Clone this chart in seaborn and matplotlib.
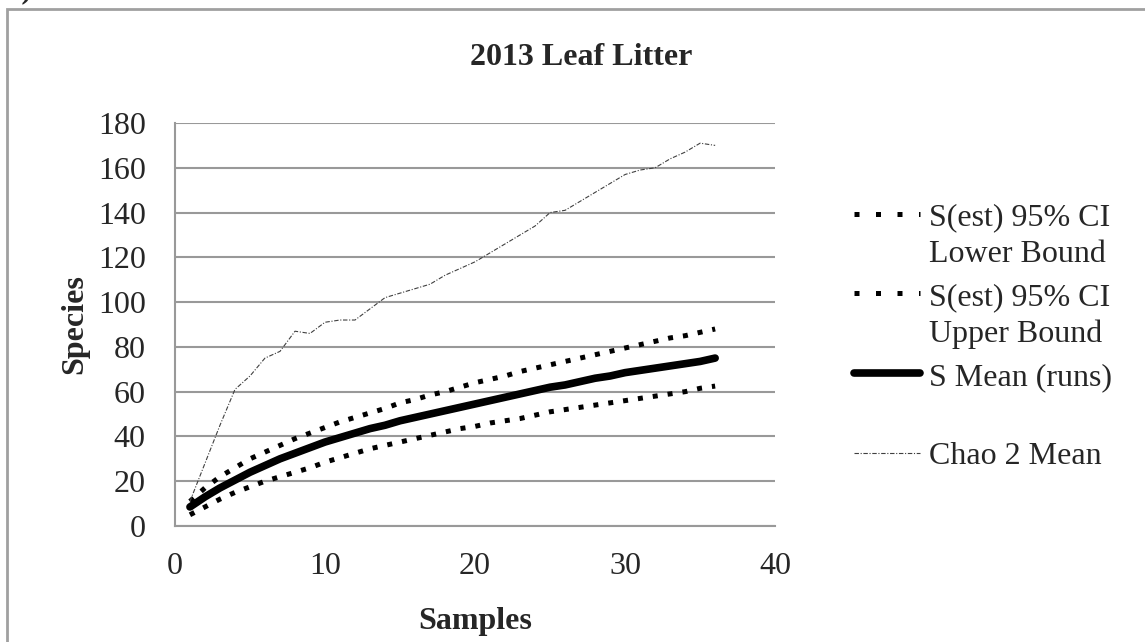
import matplotlib
matplotlib.use("Agg")
import matplotlib.pyplot as plt
import numpy as np
import pandas as pd
import seaborn as sns
from matplotlib.patches import Rectangle
from matplotlib.lines import Line2D
from matplotlib.legend_handler import HandlerLine2D
from matplotlib.transforms import Affine2D

# values
samples = list(range(1, 37))
ci_lower = [5, 8.5, 12, 15, 17.5, 20, 22, 24, 26, 28.5, 30.5, 32.5, 34.5, 36, 37.5, 39, 40.5, 42,
            43.5, 44.5, 46, 47, 48, 49.5, 51, 52, 53, 54, 55, 56, 57, 58, 59, 60, 61.5, 62.5]
ci_upper = [11, 17, 22, 26, 30, 33, 36, 39, 41.5, 44, 46.5, 48.5, 50.5, 52.5, 55, 56.5, 58.5, 60,
            62, 64, 65.5, 67, 69, 70.5, 72, 73.5, 75, 76.5, 78, 79.5, 81, 82.5, 84, 85, 86.5, 88]
s_mean = [8.5, 13, 17, 20.5, 24, 27, 30, 32.5, 35, 37.5, 39.5, 41.5, 43.5, 45, 47, 48.5, 50, 51.5,
          53, 54.5, 56, 57.5, 59, 60.5, 62, 63, 64.5, 66, 67, 68.5, 69.5, 70.5, 71.5, 72.5, 73.5, 75]
chao2 = [11, 28, 45, 61, 67, 75, 78, 87, 86, 91, 92, 92, 97, 102, 104, 106, 108, 112,
         115, 118, 122, 126, 130, 134, 140, 141, 145, 149, 153, 157, 159, 160, 164, 167, 171, 170]

df = pd.DataFrame({"Samples": samples, "lower": ci_lower, "upper": ci_upper,
                   "mean": s_mean, "chao": chao2})


# legend handles sit on the first line of each (two-line) label, like Excel does,
# and the dotted ones get the wider dot spacing of the source legend
class FirstLineHandler(HandlerLine2D):
    def create_artists(self, legend, orig_handle, xdescent, ydescent, width, height,
                       fontsize, trans):
        trans = Affine2D().translate(0, 0.7 * fontsize) + trans
        artists = super().create_artists(legend, orig_handle, xdescent, ydescent, width,
                                         height, fontsize, trans)
        if orig_handle.get_linestyle() not in ("-", "solid") and orig_handle.get_linewidth() > 2:
            for a in artists:
                a.set_linestyle((0, (1, 3.3)))
        return artists


sns.set_theme(style="white")
plt.rcParams['font.family'] = ['Liberation Serif', 'DejaVu Serif']

fig = plt.figure(figsize=(11.45, 6.42), dpi=100)
ax = fig.add_axes([0.1528, 0.1807, 0.677 - 0.1528, 0.8084 - 0.1807])

sns.lineplot(data=df, x="Samples", y="lower", ax=ax, color="black", lw=3.6,
             linestyle=(0, (1, 2)), dash_capstyle="butt", label="S(est) 95% CI\nLower Bound")
sns.lineplot(data=df, x="Samples", y="upper", ax=ax, color="black", lw=3.6,
             linestyle=(0, (1, 2)), dash_capstyle="butt", label="S(est) 95% CI\nUpper Bound")
sns.lineplot(data=df, x="Samples", y="mean", ax=ax, color="black", lw=5.5,
             label="S Mean (runs)\n ")
sns.lineplot(data=df, x="Samples", y="chao", ax=ax, color="#404040", lw=0.8,
             linestyle=(0, (4, 1.5, 1, 1.5)), label="Chao 2 Mean\n ")

ax.set_xlim(0, 40)
ax.set_ylim(0, 180)
ax.set_xticks([0, 10, 20, 30, 40])
ax.set_yticks(range(0, 181, 20))
ax.yaxis.grid(True, color="#999999", lw=1.5)
ax.xaxis.grid(False)
for side in ["top", "right"]:
    ax.spines[side].set_visible(False)
for side in ["left", "bottom"]:
    ax.spines[side].set_color("#999999")
    ax.spines[side].set_linewidth(1.5)
ax.tick_params(axis="y", length=0, pad=21, labelsize=23)
ax.tick_params(axis="x", length=0, pad=19, labelsize=23)

ax.set_xlabel("Samples", fontsize=23, fontweight="bold", va="center")
ax.xaxis.set_label_coords(0.5, -0.238)
ax.set_ylabel("Species", fontsize=23, fontweight="bold", va="center")
ax.yaxis.set_label_coords(-0.167, 0.5)
fig.text(0.508, 0.911, "2013 Leaf Litter", fontsize=23, fontweight="bold",
         ha="center", va="center")

leg = ax.legend(loc="center left", bbox_to_anchor=(1.084, 0.4226), frameon=False,
                fontsize=23, handlelength=2.05, handletextpad=0.3, labelspacing=0.43,
                handler_map={Line2D: FirstLineHandler()})
for t in leg.get_texts():
    t.set_linespacing(1.35)

# outer chart frame and panel letter (cut by the top edge, as in the source)
fig.patches.append(Rectangle((7 / 1145, -0.1), 1.2, 1.1 - 9 / 642,
                             transform=fig.transFigure, fill=False,
                             edgecolor="#a0a0a0", lw=2))
fig.text(0.0, 0.993, "B)", fontsize=23, fontweight="bold", va="bottom")

fig.savefig("out.png", dpi=100)
